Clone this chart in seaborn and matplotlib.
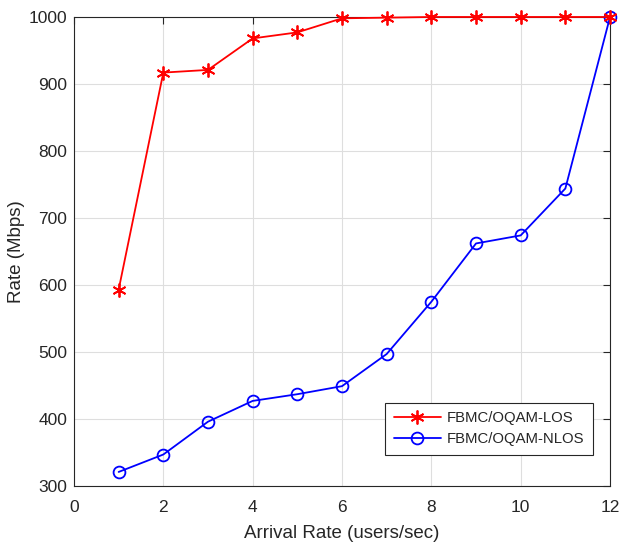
import matplotlib
matplotlib.use("Agg")
import matplotlib.pyplot as plt
import seaborn as sns
import pandas as pd
from matplotlib.lines import Line2D

arrival = [1, 2, 3, 4, 5, 6, 7, 8, 9, 10, 11, 12]
los = [593, 917, 921, 968, 977, 998, 999, 1000, 1000, 1000, 1000, 1000]
nlos = [321, 347, 396, 427, 437, 449, 497, 575, 662, 674, 744, 1000]
series_names = ["FBMC/OQAM-LOS", "FBMC/OQAM-NLOS"]
xticks = [0, 2, 4, 6, 8, 10, 12]
yticks = [300, 400, 500, 600, 700, 800, 900, 1000]

df = pd.DataFrame({
    "x": arrival * 2,
    "y": los + nlos,
    "series": [series_names[0]] * len(arrival) + [series_names[1]] * len(arrival),
})

sns.set_theme(style="white")
plt.rcParams["font.family"] = ["Liberation Sans", "DejaVu Sans"]

fig = plt.figure(figsize=(6.19, 5.44), dpi=100)
ax = fig.add_axes([0.1195, 0.1066, 0.8660, 0.8622])

colors = {series_names[0]: "#ff0000", series_names[1]: "#0000ff"}
sns.lineplot(data=df, x="x", y="y", hue="series", style="series",
             palette=colors,
             markers={series_names[0]: "*", series_names[1]: "o"},
             dashes=False, ax=ax, linewidth=1.3, legend=False)

lines = ax.get_lines()
lines[0].set_marker((6, 2, 0))
lines[0].set_markersize(10)
lines[0].set_markeredgecolor("#ff0000")
lines[1].set_markersize(8.5)
lines[1].set_markerfacecolor("none")
lines[1].set_markeredgecolor("#0000ff")
for ln in lines:
    ln.set_markeredgewidth(1.3)
    ln.set_clip_on(False)
    ln.set_zorder(5)
lines[0].set_zorder(6)

ax.set_xlim(0, 12)
ax.set_ylim(300, 1000)
ax.set_xticks(xticks)
ax.set_yticks(yticks)
ax.grid(True, color="#dedede", linewidth=0.8)
ax.set_axisbelow(True)
for s in ax.spines.values():
    s.set_color("#262626")
    s.set_linewidth(0.8)
ax.tick_params(direction="in", top=True, right=True, length=5, width=0.8,
               labelsize=12.5, colors="#262626")
ax.tick_params(axis="x", pad=10)
ax.tick_params(axis="y", pad=5)
ax.set_xlabel("Arrival Rate (users/sec)", fontsize=13.5, color="#262626", labelpad=7)
ax.set_ylabel("Rate (Mbps)", fontsize=13.5, color="#262626")
ax.yaxis.set_label_coords(-0.091, 0.5)

handles = [Line2D([], [], color="#ff0000", marker=(6, 2, 0), markersize=10, linewidth=1.3, markeredgewidth=1.3),
           Line2D([], [], color="#0000ff", marker="o", markersize=8.5, markerfacecolor="none", linewidth=1.3, markeredgewidth=1.3)]
leg = ax.legend(handles, series_names, loc="lower right", bbox_to_anchor=(0.968, 0.066),
                borderaxespad=0, fontsize=10.7, frameon=True, fancybox=False, edgecolor="#262626",
                handlelength=3.2, handletextpad=0.35, borderpad=0.6, labelspacing=0.45, framealpha=1)
leg.get_frame().set_linewidth(0.8)
leg.set_zorder(10)

fig.savefig("out.png", dpi=100)
